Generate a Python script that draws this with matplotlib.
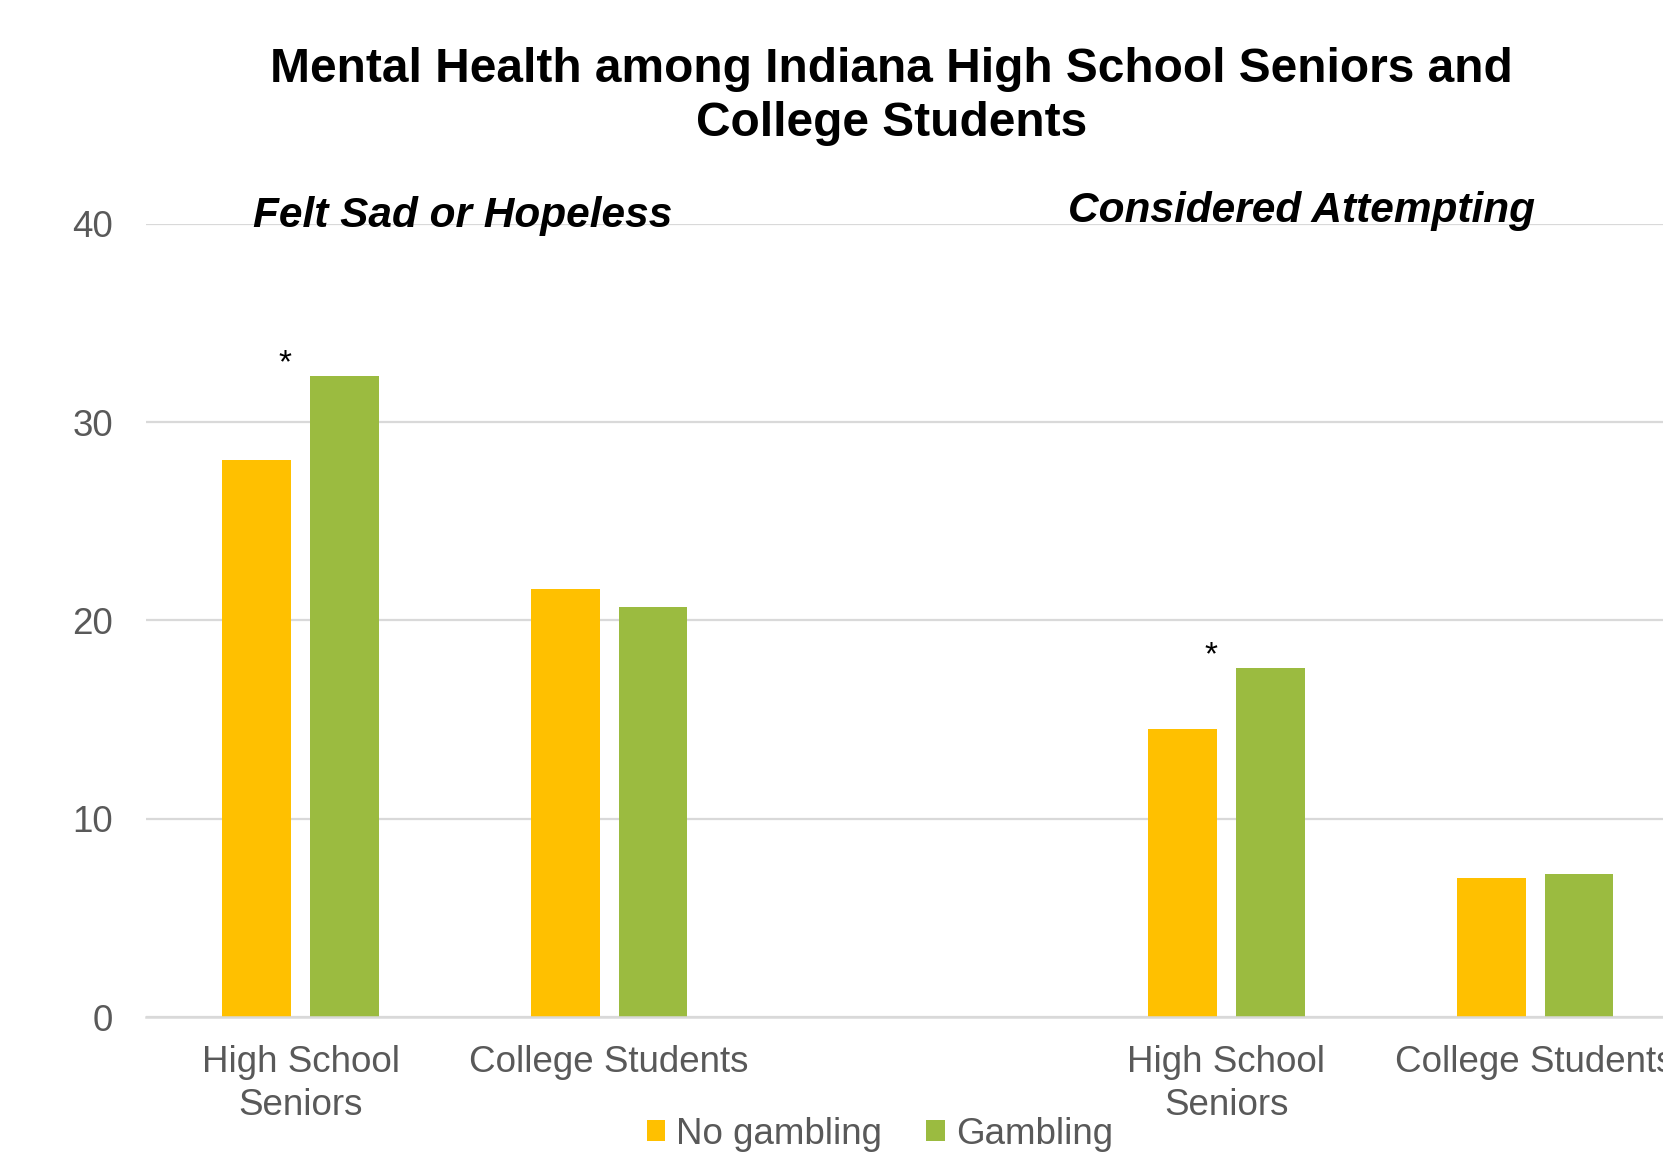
import matplotlib
matplotlib.use("Agg")
import matplotlib.pyplot as plt
import numpy as np

plt.rcParams['font.family'] = ['Liberation Sans', 'DejaVu Sans']

categories = ["High School\nSeniors", "College Students", "", "High School\nSeniors", "College Students"]
no_gambling = [28.1, 21.6, np.nan, 14.5, 7.0]
gambling = [32.3, 20.7, np.nan, 17.6, 7.2]
significant = [True, False, False, True, False]
group_titles = ["Felt Sad or Hopeless", "Considered Attempting"]
yticks = [0, 10, 20, 30, 40]

ORANGE = "#FFC000"
GREEN = "#9BBB40"
GRID = "#D9D9D9"
TXT = "#595959"

fig = plt.figure(figsize=(16.63, 11.74), dpi=100)
ax = fig.add_axes([0.0879, 0.1337, 0.928, 0.6757])

x = np.arange(len(categories))
w = 0.223
off = 0.142
ax.bar(x - off, no_gambling, width=w, color=ORANGE, label="No gambling", zorder=3)
ax.bar(x + off, gambling, width=w, color=GREEN, label="Gambling", zorder=3)

ax.set_xlim(-0.5, len(categories) - 0.5)
ax.set_ylim(0, 40)
ax.set_yticks(yticks)
ax.set_xticks(x)
ax.set_xticklabels(categories, fontsize=26.5, color=TXT, linespacing=1.3)
ax.tick_params(axis='x', length=0, pad=20)
ax.tick_params(axis='y', length=0, pad=24, labelsize=26.5, labelcolor=TXT)
ax.grid(axis='y', color=GRID, linewidth=1.6, zorder=0)
for s in ['left', 'right', 'top']:
    ax.spines[s].set_visible(False)
ax.spines['bottom'].set_color(GRID)
ax.spines['bottom'].set_linewidth(1.8)
ax.spines['bottom'].set_zorder(4)

for i, sig in enumerate(significant):
    if sig:
        ax.annotate("*", xy=(x[i] - 0.05, gambling[i]), xytext=(0, 3),
                    textcoords="offset points", ha='center', va='baseline',
                    fontsize=24, color='black')

fig.text(0.536, 0.918, "Mental Health among Indiana High School Seniors and\nCollege Students",
         ha='center', va='center', fontsize=34.5, fontweight='bold', linespacing=1.25)

fig.text(463 / 1663, 1 - 227 / 1174, group_titles[0], ha='center', va='baseline',
         fontsize=30.5, fontweight='bold', fontstyle='italic')
fig.text(1301 / 1663, 1 - 222 / 1174, group_titles[1], ha='center', va='baseline',
         fontsize=30.5, fontweight='bold', fontstyle='italic')

leg = fig.legend(loc='center', bbox_to_anchor=(0.529, 1 - 1134 / 1174), ncol=2,
                 frameon=False, fontsize=26.5, handlelength=0.5, handleheight=0.5,
                 handletextpad=0.3, columnspacing=1.2)
for t in leg.get_texts():
    t.set_color(TXT)

fig.savefig("out.png", dpi=100)
